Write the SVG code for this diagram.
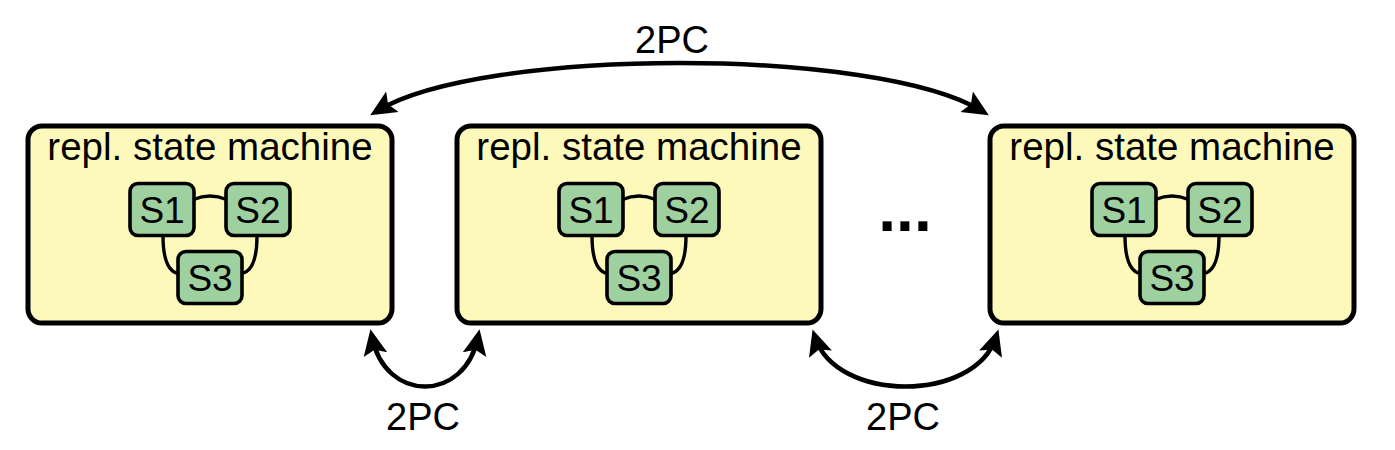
<svg xmlns="http://www.w3.org/2000/svg" width="1395" height="450" viewBox="0 0 1395 450">
<defs>
<style>
.box{fill:#fdf9bb;stroke:#000;stroke-width:5}
.st{fill:#9fd1a0;stroke:#000;stroke-width:3.6}
.ln{fill:none;stroke:#000;stroke-width:3.4}
.ar{fill:none;stroke:#000;stroke-width:4.5}
.t{font-family:"Liberation Sans",Arial,sans-serif;fill:#000;text-anchor:middle}
.title{font-size:38.5px}
.s{font-size:37px}
.lbl{font-size:38px}
</style>
<marker id="ah" markerUnits="userSpaceOnUse" markerWidth="28" markerHeight="26" viewBox="0 -13 28 26" refX="18" refY="0" orient="auto-start-reverse">
<path d="M0,-12 L26,0 L0,12 L5,0 z" fill="#000"/>
</marker>
<g id="sm">
<path class="ln" d="M-16.5,-10 Q0,-17 16.5,-10"/>
<path class="ln" d="M-47,26 C-47,52 -41,62 -32,64"/>
<path class="ln" d="M47,26 C47,52 41,62 32,64"/>
<rect class="st" x="-80" y="-26" width="64" height="52" rx="8"/>
<rect class="st" x="16" y="-26" width="64" height="52" rx="8"/>
<rect class="st" x="-32" y="42" width="64" height="52" rx="8"/>
<text class="t s" x="-48" y="13">S1</text>
<text class="t s" x="48" y="13">S2</text>
<text class="t s" x="0" y="81">S3</text>
</g>
</defs>
<g id="connectors">
<path class="ar" d="M377,111 C482,47 877,47 982,111" marker-start="url(#ah)" marker-end="url(#ah)"/>
<path class="ar" d="M372,337 C385,403 465,403 478,337" marker-start="url(#ah)" marker-end="url(#ah)"/>
<path class="ar" d="M815,337 C836,403 975,403 996,337" marker-start="url(#ah)" marker-end="url(#ah)"/>
<text class="t lbl" x="672" y="53">2PC</text>
<text class="t lbl" x="423" y="430">2PC</text>
<text class="t lbl" x="903" y="430">2PC</text>
</g>
<g id="node1">
<rect class="box" x="28" y="126" width="364" height="197" rx="14"/>
<text class="t title" x="210" y="160">repl. state machine</text>
<use href="#sm" x="210" y="209.5"/>
</g>
<g id="node2">
<rect class="box" x="457" y="126" width="364" height="197" rx="14"/>
<text class="t title" x="639" y="160">repl. state machine</text>
<use href="#sm" x="639" y="209.5"/>
</g>
<g id="ellipsis">
<text class="t" style="font-size:64px;font-weight:bold" x="905" y="230.5">...</text>
</g>
<g id="node3">
<rect class="box" x="990" y="126" width="364" height="197" rx="14"/>
<text class="t title" x="1172" y="160">repl. state machine</text>
<use href="#sm" x="1172" y="209.5"/>
</g>
</svg>
